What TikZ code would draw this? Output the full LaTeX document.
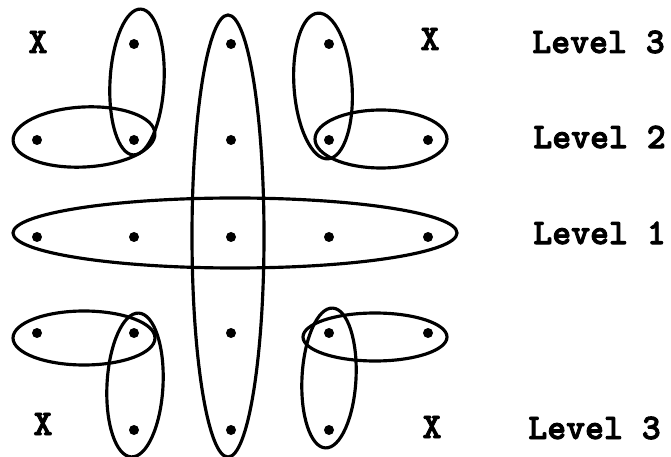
\documentclass[tikz,border=0pt]{standalone}
\usepackage{fontspec}
\setmonofont{lmmonolt10-regular.otf}[BoldFont=lmmonolt10-bold.otf, BoldFeatures={FakeBold=2.5}]
\usepackage{tikz}
\usetikzlibrary{positioning}

\begin{document}
\begin{tikzpicture}[
  x=0.02cm, y=0.02cm,
  dot/.style={circle, fill, inner sep=0pt, minimum size=0.2cm},
  ring/.style={draw, line width=1.8pt},
  typed/.style={font=\fontsize{20.5}{22}\selectfont\ttfamily\bfseries, inner sep=0pt},
  level/.style={typed, anchor=west}
]
\useasboundingbox (0,0) rectangle (671,456);

% points of the grid
\foreach \c/\x in {1/37, 2/134, 3/231, 4/329, 5/428} {
  \foreach \r/\y in {2/316, 3/219, 4/123} {
    \node[dot] (p\r\c) at (\x,\y) {};
  }
}
\foreach \c/\x in {2/134, 3/231, 4/329} {
  \node[dot] (p1\c) at (\x,412) {};
  \node[dot] (p5\c) at (\x,26) {};
}

% corners
\node[typed] (xtl) at (38,414) {X};
\node[typed] (xtr) at (430,417) {X};
\node[typed] (xbl) at (43,32) {X};
\node[typed] (xbr) at (432,29) {X};

% levels
\node[level] (lev3a) at (532,414) {Level 3};
\node[level] (lev2)  at (533,319) {Level 2};
\node[level] (lev1)  at (533,223) {Level 1};
\node[level] (lev3b) at (528,28)  {Level 3};

% long rings
\draw[ring] (228,220) ellipse [x radius=36, y radius=221];
\draw[ring] (235,223) ellipse [x radius=222, y radius=35];

% top left
\draw[ring] (137,374) ellipse [x radius=27, y radius=73, rotate=-3];
\draw[ring] (84,319) ellipse [x radius=71, y radius=30, rotate=3];

% top right
\draw[ring] (323,370) ellipse [x radius=29, y radius=73, rotate=4];
\draw[ring] (381,317) ellipse [x radius=66, y radius=29];

% bottom left
\draw[ring] (84,118) ellipse [x radius=71, y radius=27];
\draw[ring] (135,71) ellipse [x radius=28, y radius=72, rotate=-3];

% bottom right
\draw[ring] (329,78) ellipse [x radius=27, y radius=70, rotate=-3];
\draw[ring] (375,119) ellipse [x radius=72, y radius=24];
\end{tikzpicture}
\end{document}
